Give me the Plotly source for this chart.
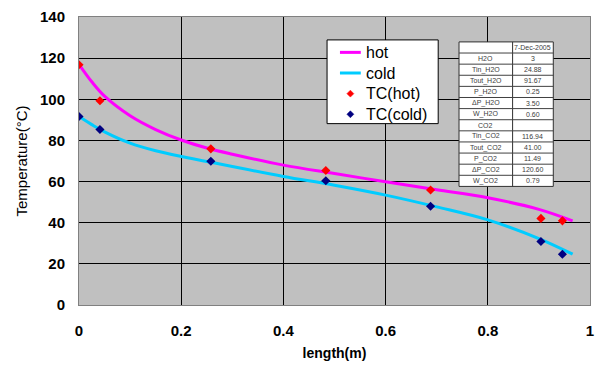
import plotly.graph_objects as go

# Thermocouple readings along the exchanger
length_tc = [0, 0.041, 0.258, 0.483, 0.688, 0.904, 0.946]
tc_hot = [116.8, 99.3, 75.9, 65.4, 55.9, 42.1, 40.9]
tc_cold = [91.6, 85.3, 69.9, 60.4, 48.0, 30.9, 24.7]

# Fitted temperature profiles
length_fit = [0, 0.025, 0.05, 0.1, 0.15, 0.2, 0.25, 0.3, 0.4, 0.5, 0.6, 0.7, 0.8, 0.9, 0.966]
hot_fit = [117, 108.5, 101.5, 92.0, 85.3, 80.2, 76.3, 73.3, 68.0, 63.9, 59.9, 56.0, 52.1, 46.5, 40.9]
cold_fit = [91.6, 87.7, 84.2, 78.7, 75.0, 72.2, 69.8, 67.3, 62.5, 58.2, 53.4, 47.7, 41.4, 32.3, 24.7]

# Run summary table
table_labels = ["", "H2O", "Tin_H2O", "Tout_H2O", "P_H2O", "\u0394P_H2O", "W_H2O",
                "CO2", "Tin_CO2", "Tout_CO2", "P_CO2", "\u0394P_CO2", "W_CO2"]
table_values = ["7-Dec-2005", "3", "24.88", "91.67", "0.25", "3.50", "0.60",
                "", "116.94", "41.00", "11.49", "120.60", "0.79"]

FONT = "Liberation Sans, Arial, sans-serif"

series_names = ["hot", "cold", "TC(hot)", "TC(cold)"]
series_colors = ["#FF00FF", "#00CCFF", "#FF0000", "#000080"]

fig = go.Figure()
fig.add_trace(go.Scatter(x=length_fit, y=hot_fit, mode="lines", name=series_names[0],
                         line=dict(color=series_colors[0], width=3, shape="spline")))
fig.add_trace(go.Scatter(x=length_fit, y=cold_fit, mode="lines", name=series_names[1],
                         line=dict(color=series_colors[1], width=3, shape="spline")))
fig.add_trace(go.Scatter(x=length_tc, y=tc_hot, mode="markers", name=series_names[2],
                         marker=dict(symbol="diamond", size=7, color=series_colors[2])))
fig.add_trace(go.Scatter(x=length_tc, y=tc_cold, mode="markers", name=series_names[3],
                         marker=dict(symbol="diamond", size=7, color=series_colors[3])))

# plot area in pixels
L, R, T, B = 79, 594, 17, 306


def px(x):
    return (x - L) / (R - L)


def py(y):
    return (B - y) / (B - T)


shapes = []
annotations = []

# legend box
lx0, lx1, ly0, ly1 = 329, 441, 40, 124
shapes.append(dict(type="rect", xref="paper", yref="paper",
                   x0=px(lx0), x1=px(lx1), y0=py(ly0), y1=py(ly1),
                   fillcolor="white", line=dict(color="black", width=1), layer="above"))
for i, (name, col) in enumerate(zip(series_names, series_colors)):
    yc = 52.5 + i * 20.7
    if i < 2:
        shapes.append(dict(type="line", xref="paper", yref="paper",
                           x0=px(342), x1=px(363), y0=py(yc), y1=py(yc),
                           line=dict(color=col, width=3), layer="above"))
    else:
        cx, d = 352.5, 3.5
        path = (f"M {px(cx - d)} {py(yc)} L {px(cx)} {py(yc - d)} "
                f"L {px(cx + d)} {py(yc)} L {px(cx)} {py(yc + d)} Z")
        shapes.append(dict(type="path", xref="paper", yref="paper", path=path,
                           fillcolor=col, line=dict(color=col, width=0.5), layer="above"))
    annotations.append(dict(x=px(366), y=py(yc), xref="paper", yref="paper",
                            xanchor="left", yanchor="middle", text=name, showarrow=False,
                            font=dict(family=FONT, size=16, color="black")))

# summary table drawn as boxes and text
tx0, tx1, tmid = 462, 557, 516
ty0, ty1 = 42, 187
n = len(table_labels)
rh = (ty1 - ty0) / n
shapes.append(dict(type="rect", xref="paper", yref="paper",
                   x0=px(tx0), x1=px(tx1), y0=py(ty0), y1=py(ty1),
                   fillcolor="white", line=dict(color="#303030", width=1), layer="above"))
shapes.append(dict(type="line", xref="paper", yref="paper",
                   x0=px(tmid), x1=px(tmid), y0=py(ty0), y1=py(ty1),
                   line=dict(color="#303030", width=1), layer="above"))
for i in range(1, n):
    yy = ty0 + i * rh
    shapes.append(dict(type="line", xref="paper", yref="paper",
                       x0=px(tx0), x1=px(tx1), y0=py(yy), y1=py(yy),
                       line=dict(color="#404040", width=1), layer="above"))
for i, (lab, val) in enumerate(zip(table_labels, table_values)):
    yc = ty0 + (i + 0.5) * rh
    for text, xc in ((lab, (tx0 + tmid) / 2), (val, (tmid + tx1) / 2)):
        if text:
            annotations.append(dict(x=px(xc), y=py(yc), xref="paper", yref="paper",
                                    xanchor="center", yanchor="middle",
                                    text=text, showarrow=False,
                                    font=dict(family=FONT, size=7, color="#404040")))

fig.update_layout(
    width=600, height=365,
    margin=dict(l=L, r=600 - R, t=T, b=365 - B),
    paper_bgcolor="white", plot_bgcolor="#C0C0C0",
    font=dict(family=FONT, color="black"),
    showlegend=False,
    shapes=shapes,
    annotations=annotations,
)
fig.update_xaxes(range=[0, 1], tickvals=[0, 0.2, 0.4, 0.6, 0.8, 1],
                 ticktext=["0", "0.2", "0.4", "0.6", "0.8", "1"],
                 showgrid=True, gridcolor="black", gridwidth=1,
                 zeroline=False, showline=True, linecolor="#808080", mirror=True,
                 ticks="", ticklabelstandoff=12,
                 tickfont=dict(family=FONT, size=15, weight="bold"),
                 title=dict(text="length(m)", standoff=10,
                            font=dict(family=FONT, size=14, weight="bold")))
fig.update_yaxes(range=[0, 140], dtick=20,
                 showgrid=True, gridcolor="black", gridwidth=1,
                 zeroline=False, showline=True, linecolor="#808080", mirror=True,
                 ticks="", ticklabelstandoff=10,
                 tickfont=dict(family=FONT, size=15, weight="bold"),
                 title=dict(text="Temperature(\u00b0C)", standoff=8,
                            font=dict(family=FONT, size=15)))

fig.write_html("out.html")
